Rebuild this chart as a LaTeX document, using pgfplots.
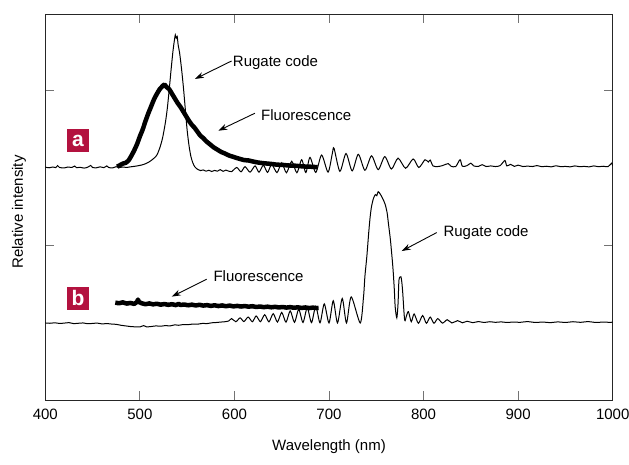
\documentclass[border=0pt]{standalone}
\usepackage{pgfplots}
\pgfplotsset{compat=1.18}
\usetikzlibrary{arrows.meta}
\usepackage{fontspec}
\IfFontExistsTF{Liberation Sans Narrow}
  {\setmainfont{Liberation Sans Narrow}\newcommand\chartfont{\fontsize{17.5}{20}\selectfont}}
  {\setmainfont{Liberation Sans}\newcommand\chartfont{\fontsize{15}{18}\selectfont}}
\definecolor{tagred}{HTML}{B3123F}

\begin{document}
\begin{tikzpicture}[font=\chartfont]
  \useasboundingbox (-45.3pt,-64pt) rectangle (583.7pt,400pt);
  \begin{axis}[
    at={(0,0)}, anchor=south west,
    scale only axis, width=567.4pt, height=386pt,
    xmin=400, xmax=1000, ymin=0, ymax=2.49,
    xtick={400,500,...,1000}, ytick={1,2}, yticklabels={},
    tick align=inside, major tick length=9pt,
    tick style={black!55, line width=0.8pt},
    axis line style={black!85, line width=0.8pt},
    /pgf/number format/assume math mode=true,
    /pgf/number format/1000 sep={},
    xticklabel style={yshift=-5pt},
    xlabel={Wavelength (nm)}, ylabel={Relative intensity},
    xlabel style={at={(axis description cs:0.5,-0.122)}, anchor=center},
    ylabel style={at={(axis description cs:-0.0464,0.487)}, anchor=center},
    clip=true,
  ]
  % (a) rugate code, thin
  \addplot[black, line width=1pt, smooth, tension=0.45] table {
400 1.502
404 1.498
408 1.503
411 1.499
413 1.512
415 1.500
420 1.497
424 1.503
428 1.500
431 1.509
433 1.499
437 1.501
441 1.496
445 1.502
448 1.513
450 1.500
454 1.498
458 1.504
462 1.499
465 1.510
467 1.500
471 1.497
475 1.505
478 1.499
482 1.503
486 1.500
490 1.504
494 1.507
498 1.511
502 1.516
506 1.524
509 1.533
512 1.545
515 1.560
518 1.580
521 1.625
524 1.690
527 1.790
529 1.880
531 2.000
533 2.130
535 2.250
536.5 2.320
537.5 2.355
538.5 2.335
539.5 2.345
540.5 2.290
542 2.240
544 2.140
546 2.020
548 1.880
550 1.740
552 1.640
554 1.570
556 1.530
558 1.505
561 1.488
564 1.480
567 1.484
570 1.476
573 1.482
576 1.474
579 1.481
582 1.476
585 1.486
588 1.475
591 1.483
594 1.476
597 1.473
602.4 1.500
607 1.472
611.2 1.505
616.5 1.470
621.8 1.510
626 1.470
630.6 1.515
635 1.468
639.4 1.520
645 1.467
650 1.530
655 1.466
660.6 1.540
666 1.466
671.1 1.550
675.5 1.467
679.9 1.565
686 1.468
692.2 1.580
699 1.470
703.5 1.590
705.3 1.624
711.5 1.475
718 1.590
724.5 1.478
731 1.585
738 1.482
745 1.575
752 1.486
759 1.570
766 1.490
773 1.560
781 1.495
789 1.555
795 1.500
801.5 1.550
805 1.535
807 1.548
810 1.510
815 1.506
820 1.512
826 1.525
829 1.508
834 1.506
838.6 1.550
841 1.508
846 1.512
850 1.528
853 1.510
858 1.507
862 1.518
866 1.506
871 1.510
876 1.506
881 1.512
886 1.545
888 1.510
892 1.520
896 1.507
900 1.515
905 1.506
910 1.509
915 1.506
920 1.512
925 1.505
930 1.508
935 1.504
940 1.511
945 1.505
950 1.507
955 1.504
960 1.510
965 1.505
970 1.507
975 1.504
980 1.510
985 1.505
990 1.508
995 1.505
999 1.528
1000 1.510
  };
  % (a) fluorescence, thick
  \addplot[black, line width=4.5pt, line join=round, smooth, tension=0.3] table {
476 1.505
479 1.515
482 1.525
485 1.530
488 1.545
491 1.575
494 1.610
497 1.650
500 1.700
503 1.745
506 1.800
509 1.850
512 1.895
515 1.940
518 1.975
521 2.005
524 2.025
526 2.035
528 2.020
531 2.005
534 1.975
537 1.945
540 1.915
543 1.890
546 1.860
549 1.830
552 1.800
555 1.775
558 1.755
561 1.730
564 1.705
567 1.690
570 1.670
574 1.650
578 1.630
582 1.615
586 1.600
590 1.590
594 1.578
598 1.570
602 1.562
606 1.555
610 1.548
615 1.545
620 1.538
625 1.532
630 1.528
635 1.525
640 1.522
645 1.518
650 1.517
655 1.514
660 1.512
665 1.511
670 1.508
675 1.506
680 1.505
685 1.503
688 1.502
  };
  % (b) rugate code, thin
  \addplot[black, line width=1pt, smooth, tension=0.45] table {
400 0.497
405 0.495
410 0.498
415 0.494
420 0.496
425 0.499
430 0.493
435 0.495
440 0.497
445 0.492
450 0.494
455 0.496
460 0.491
465 0.493
470 0.490
475 0.488
480 0.482
485 0.478
490 0.474
495 0.472
500 0.471
504 0.480
507 0.472
512 0.474
517 0.478
522 0.476
527 0.480
532 0.478
537 0.485
541 0.482
546 0.487
551 0.486
556 0.490
561 0.489
566 0.494
571 0.493
576 0.498
581 0.500
586 0.503
590 0.505
594 0.510
597 0.525
601.5 0.505
606 0.530
610 0.506
614.5 0.535
619 0.505
623 0.542
627.5 0.505
632 0.550
636.5 0.504
641 0.557
645.5 0.503
650 0.565
654.5 0.502
659 0.575
663.5 0.501
668 0.585
672.5 0.500
677 0.595
681.5 0.499
686 0.605
690.5 0.498
695 0.620
700 0.497
704.5 0.640
709 0.497
714 0.655
718.5 0.497
723.5 0.665
733 0.497
736.5 0.665
738 0.800
740 0.925
742 1.080
743.5 1.180
745 1.250
747 1.300
749 1.325
750.5 1.318
752 1.344
754 1.330
755.5 1.315
757.5 1.290
759.5 1.260
761.5 1.206
763 1.130
765 1.030
767.5 0.860
769 0.720
770 0.600
771.7 0.530
773 0.620
774 0.774
776 0.795
777 0.760
778 0.690
780 0.516
782 0.545
784 0.570
787 0.505
790 0.555
794.5 0.495
799 0.545
803 0.495
807 0.535
811 0.495
815 0.525
820 0.496
825 0.518
830 0.497
836 0.512
841 0.498
846 0.508
852 0.499
858 0.506
864 0.500
870 0.505
876 0.501
882 0.504
888 0.500
895 0.503
902 0.501
910 0.506
918 0.500
926 0.503
934 0.499
942 0.504
950 0.500
958 0.505
966 0.501
974 0.506
982 0.500
990 0.503
996 0.501
1000 0.502
  };
  % (b) fluorescence, thick
  \addplot[black, line width=4.5pt, line join=round] table {
474 0.628
478 0.624
482 0.630
486 0.622
490 0.626
494 0.620
497 0.632
498 0.648
499 0.632
502 0.624
506 0.618
510 0.623
514 0.617
518 0.621
522 0.615
526 0.619
530 0.614
534 0.618
538 0.612
541 0.620
543 0.613
547 0.616
551 0.611
555 0.615
559 0.610
563 0.614
567 0.609
571 0.612
575 0.607
579 0.611
583 0.606
587 0.610
591 0.605
595 0.609
599 0.604
603 0.607
607 0.603
611 0.606
615 0.602
619 0.605
623 0.600
627 0.603
631 0.599
635 0.602
639 0.598
643 0.601
647 0.597
651 0.600
655 0.596
659 0.599
663 0.595
667 0.598
671 0.594
675 0.597
679 0.593
683 0.596
687 0.593
689 0.594
  };
  % panel tags
  \node[fill=tagred, text=white, font=\fontsize{21}{22}\selectfont\bfseries, minimum width=22pt, minimum height=23pt, inner sep=0pt]
    at (axis cs:434.6,1.674) {a};
  \node[fill=tagred, text=white, font=\fontsize{21}{22}\selectfont\bfseries, minimum width=22pt, minimum height=23pt, inner sep=0pt]
    at (axis cs:434.6,0.655) {b};
  % annotations
  \node[anchor=west, inner sep=0pt] at (axis cs:598.2,2.174) {Rugate code};
  \draw[-{Stealth[length=9pt,width=6pt]}, line width=0.9pt] (axis cs:597.0,2.187) -- (axis cs:558.3,2.071);
  \node[anchor=west, inner sep=0pt] at (axis cs:628.1,1.839) {Fluorescence};
  \draw[-{Stealth[length=9pt,width=6pt]}, line width=0.9pt] (axis cs:621.7,1.850) -- (axis cs:582.9,1.737);
  \node[anchor=west, inner sep=0pt] at (axis cs:577.7,0.800) {Fluorescence};
  \draw[-{Stealth[length=9pt,width=6pt]}, line width=0.9pt] (axis cs:570.7,0.779) -- (axis cs:533.7,0.667);
  \node[anchor=west, inner sep=0pt] at (axis cs:820.9,1.077) {Rugate code};
  \draw[-{Stealth[length=9pt,width=6pt]}, line width=0.9pt] (axis cs:813.9,1.080) -- (axis cs:776.9,0.961);
  \end{axis}
\end{tikzpicture}
\end{document}
